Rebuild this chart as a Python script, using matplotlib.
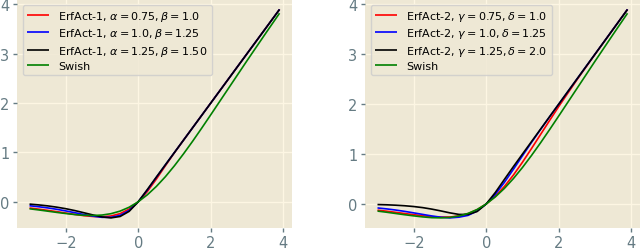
import numpy as np
import matplotlib
matplotlib.use("Agg")
import matplotlib.pyplot as plt

# sample points
x = [-3.0, -2.75, -2.5, -2.25, -2.0, -1.75, -1.5, -1.25, -1.0, -0.75, -0.5, -0.25,
     0.0, 0.25, 0.5, 0.75, 1.0, 1.25, 1.5, 1.75, 2.0, 2.5, 3.0, 3.5, 3.9]

erf1_a = [-0.126, -0.149, -0.174, -0.200, -0.228, -0.256, -0.281, -0.298, -0.304, -0.288, -0.240, -0.148,
          0.0, 0.207, 0.460, 0.731, 0.996, 1.250, 1.5, 1.75, 2.0, 2.5, 3.0, 3.5, 3.9]
erf1_b = [-0.080, -0.100, -0.124, -0.152, -0.185, -0.221, -0.258, -0.291, -0.315, -0.315, -0.275, -0.175,
          0.0, 0.237, 0.496, 0.750, 1.0, 1.25, 1.5, 1.75, 2.0, 2.5, 3.0, 3.5, 3.9]
erf1_c = [-0.047, -0.063, -0.083, -0.109, -0.140, -0.178, -0.222, -0.267, -0.307, -0.326, -0.298, -0.194,
          0.0, 0.247, 0.500, 0.750, 1.0, 1.25, 1.5, 1.75, 2.0, 2.5, 3.0, 3.5, 3.9]

erf2_a = [-0.123, -0.144, -0.167, -0.191, -0.214, -0.236, -0.254, -0.263, -0.261, -0.239, -0.193, -0.115,
          0.0, 0.155, 0.349, 0.579, 0.836, 1.111, 1.393, 1.674, 1.952, 2.485, 2.996, 3.499, 3.9]
erf2_b = [-0.079, -0.098, -0.121, -0.148, -0.178, -0.209, -0.240, -0.265, -0.278, -0.264, -0.228, -0.141,
          0.0, 0.194, 0.432, 0.695, 0.966, 1.234, 1.493, 1.748, 1.999, 2.5, 3.0, 3.5, 3.9]
erf2_c = [-0.011, -0.016, -0.024, -0.035, -0.051, -0.073, -0.103, -0.139, -0.178, -0.209, -0.210, -0.150,
          0.0, 0.229, 0.490, 0.748, 1.0, 1.25, 1.5, 1.75, 2.0, 2.5, 3.0, 3.5, 3.9]

swish = [-0.142, -0.165, -0.190, -0.215, -0.238, -0.259, -0.274, -0.278, -0.269, -0.241, -0.189, -0.110,
         0.0, 0.141, 0.311, 0.509, 0.731, 0.972, 1.226, 1.491, 1.762, 2.310, 2.858, 3.397, 3.823]

labels1 = [r"ErfAct-1, $\alpha=0.75, \beta=1.0$",
           r"ErfAct-1, $\alpha=1.0, \beta=1.25$",
           r"ErfAct-1, $\alpha=1.25, \beta=1.50$"]
labels2 = [r"ErfAct-2, $\gamma=0.75, \delta=1.0$",
           r"ErfAct-2, $\gamma=1.0, \delta=1.25$",
           r"ErfAct-2, $\gamma=1.25, \delta=2.0$"]
colors = ["red", "blue", "black"]

plt.style.use("Solarize_Light2")
fig = plt.figure(figsize=(6.4, 2.51), dpi=100, facecolor="white")
ax1 = fig.add_axes([0.0266, 0.0865, 0.4297, 0.9135])
ax2 = fig.add_axes([0.5703, 0.0865, 0.4297, 0.9135])

for ax, series, labels in [(ax1, [erf1_a, erf1_b, erf1_c], labels1),
                           (ax2, [erf2_a, erf2_b, erf2_c], labels2)]:
    for ys, c, lab in zip(series, colors, labels):
        ax.plot(x, ys, color=c, lw=1.2, label=lab)
    ax.plot(x, swish, color="green", lw=1.2, label="Swish")
    ax.set_facecolor("#eee8d5")
    ax.grid(True, color="#fdf6e3", lw=1.0)
    ax.set_xticks([-2, 0, 2, 4])
    ax.set_yticks([0, 1, 2, 3, 4])
    ax.tick_params(labelsize=10.5, colors="#657b83", length=3, width=1)
    ax.tick_params(axis="y", pad=2.5)
    ax.tick_params(axis="x", pad=2)
    for s in ax.spines.values():
        s.set_visible(False)
    ax.set_title("")
    ax.legend(loc="upper left", fontsize=8, labelspacing=0.3, facecolor="#eee8d5",
              edgecolor="#cccccc", framealpha=0.8)

fig.savefig("out.png", dpi=100, facecolor="white")
